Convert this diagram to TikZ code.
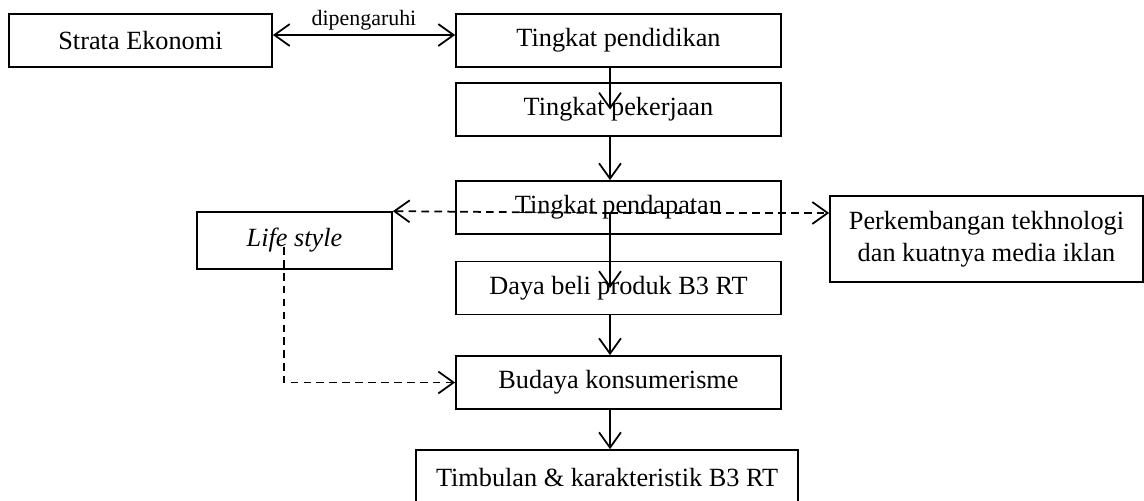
\documentclass[tikz,border=0pt,12pt]{standalone}
\usepackage{fontspec}
\setmainfont{Liberation Serif}
\usetikzlibrary{arrows.meta}
\tikzset{
  box/.style={draw,line width=.8pt,inner sep=0pt,minimum height=24.2pt,align=center},
  link/.style={line width=.8pt},
  dlink/.style={line width=.8pt,dash pattern=on 3.5pt off 2.4pt},
}
\begin{document}
\begin{tikzpicture}[x=0.4566pt,y=-0.4566pt,>={Straight Barb[length=7pt,width=10pt]}]
\path[use as bounding box] (0,0) rectangle (1144,501);
\node[box,minimum width=120.1pt] (strata) at (140.5,40.5) {Strata Ekonomi};
\node[box,minimum width=148.4pt] (pendidikan) at (618.5,40.5) {Tingkat pendidikan};
\node[box,minimum width=148.4pt] (pekerjaan) at (618.5,109.5) {Tingkat pekerjaan};
\node[box,minimum width=148.4pt] (pendapatan) at (618.5,207.5) {Tingkat pendapatan};
\node[box,minimum width=148.4pt] (dayabeli) at (618.5,288) {Daya beli produk B3 RT};
\node[box,minimum width=148.4pt] (budaya) at (618.5,382.5) {Budaya konsumerisme};
\node[box,minimum width=174.4pt,minimum height=25.1pt] (timbulan) at (607,477.5) {Timbulan \& karakteristik B3 RT};
\node[box,minimum width=89pt,minimum height=26pt] (lifestyle) at (294.5,240.5) {\textit{Life style}};
\node[box,minimum width=142.9pt,minimum height=39.3pt] (teknologi) at (986.5,239) {Perkembangan tekhnologi\\dan kuatnya media iklan};
\coordinate (hub) at (610,213);
\coordinate (lsfoot) at (284,247);
\draw[link,<->] ([yshift=2.5pt]strata.east) -- ([yshift=2.5pt]pendidikan.west)
  node[midway,above,font=\footnotesize,inner sep=2pt] {dipengaruhi};
\draw[link,->] (pendidikan.south -| hub) -- (pekerjaan.center -| hub);
\draw[link,->] (pekerjaan.south -| hub) -- (pendapatan.north -| hub);
\draw[link,->] (hub) -- (dayabeli.center -| hub);
\draw[link,->] (dayabeli.south -| hub) -- (budaya.north -| hub);
\draw[link,->] (budaya.south -| hub) -- (timbulan.north -| hub);
\draw[dlink,->] (hub) -- (lifestyle.north east);
\draw[dlink,->] (hub) -- (teknologi.west |- hub);
\draw[dlink,->] (lsfoot) |- (budaya.west);
\end{tikzpicture}
\end{document}
